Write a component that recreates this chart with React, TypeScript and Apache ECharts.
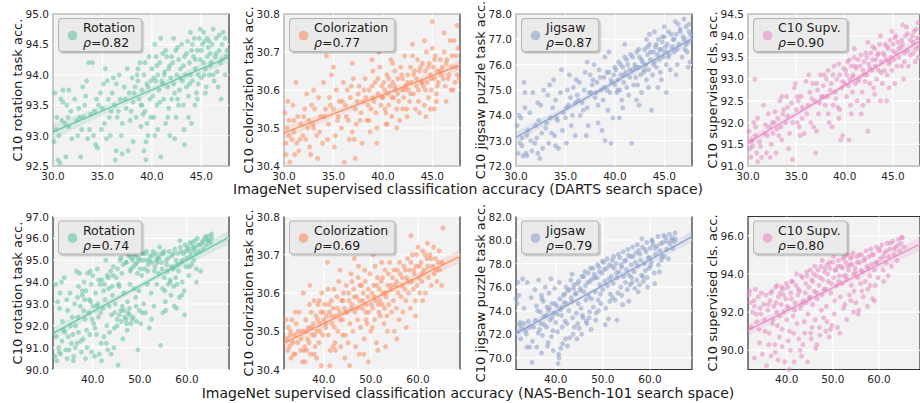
import React, { useEffect, useRef } from 'react';
import * as echarts from 'echarts';

type Pt = [number, number];

// ---------- tick labels ----------
const dartsXTicks = [30, 35, 40, 45];
const nbXTicks = [40, 50, 60];
const rotDartsYTicks = [92.5, 93.0, 93.5, 94.0, 94.5, 95.0];
const colDartsYTicks = [30.4, 30.5, 30.6, 30.7, 30.8];
const jigDartsYTicks = [72, 73, 74, 75, 76, 77, 78];
const supDartsYTicks = [91.0, 91.5, 92.0, 92.5, 93.0, 93.5, 94.0, 94.5];
const rotNbYTicks = [90, 91, 92, 93, 94, 95, 96, 97];
const colNbYTicks = [30.4, 30.5, 30.6, 30.7, 30.8];
const jigNbYTicks = [70, 72, 74, 76, 78, 80, 82];
const supNbYTicks = [90, 92, 94, 96];

// ---------- labels ----------
const taskNames = ['Rotation', 'Colorization', 'Jigsaw', 'C10 Supv.'];
const rhoDarts = ['0.82', '0.77', '0.87', '0.90'];
const rhoNb = ['0.74', '0.69', '0.79', '0.80'];
const yTitles = ['C10 rotation task acc.', 'C10 colorization task acc.', 'C10 jigsaw puzzle task acc.', 'C10 supervised cls. acc.'];
const xTitles = [
  'ImageNet supervised classification accuracy (DARTS search space)',
  'ImageNet supervised classification accuracy (NAS-Bench-101 search space)',
];

// ---------- data (DARTS search space) ----------
const rotationDarts: Pt[] = [
  [30.2,93.7],[30.4,93.3],[30.5,92.6],[30.6,93.0],[30.8,93.6],[31.0,93.75],[31.0,93.55],[31.2,93.2],[31.3,92.65],[31.5,93.3],[31.6,93.15],[31.8,93.4],[31.9,92.95],[30.3,93.1],[30.7,92.55],
  [32.2,93.6],[32.4,93.25],[32.6,93.45],[32.8,92.65],[32.9,93.1],[33.0,93.8],[33.2,93.5],[33.4,93.9],[33.5,92.95],[33.6,94.2],[33.8,93.35],[34.0,94.2],[34.1,93.0],[34.3,92.85],[34.4,93.6],[33.1,93.3],[32.5,93.0],
  [34.6,93.5],[34.8,93.7],[35.0,93.45],[35.2,93.2],[35.3,94.1],[35.5,93.9],[35.6,93.6],[35.8,93.0],[35.9,93.4],[36.0,93.7],[34.5,92.8],[35.1,93.85],[36.3,92.6],
  [36.2,93.5],[36.4,93.85],[36.5,93.3],[36.7,94.0],[36.8,93.6],[37.0,92.7],[37.2,93.8],[37.4,93.45],[37.5,94.1],[37.7,93.7],[37.8,93.25],[38.0,93.95],[38.1,93.55],[36.9,93.0],[37.6,92.75],
  [38.3,93.8],[38.4,93.3],[38.5,94.0],[38.7,93.6],[38.8,94.2],[38.9,93.15],[39.0,93.75],[39.2,94.0],[39.3,93.4],[39.4,92.9],[39.5,93.85],[39.6,93.0],[39.7,94.3],[39.8,93.6],[39.9,93.9],[38.6,93.9],[39.1,93.35],[39.4,92.6],
  [40.0,94.1],[40.1,93.65],[40.2,93.3],[40.3,94.5],[40.4,93.9],[40.5,93.5],[40.6,94.0],[40.7,93.75],[40.8,94.2],[40.9,92.65],[41.0,93.9],[41.1,94.35],[41.2,93.6],[41.3,94.05],[41.4,93.2],[41.5,94.3],[41.6,93.8],[41.7,93.45],[41.8,94.15],[41.9,93.95],[42.0,93.6],[40.45,94.3],[41.25,94.0],
  [42.1,94.2],[42.2,93.85],[42.3,92.95],[42.4,94.4],[42.5,94.0],[42.6,93.6],[42.7,94.25],[42.8,93.75],[42.9,94.1],[43.0,94.5],[43.1,93.9],[43.2,93.5],[43.3,94.3],[43.4,94.0],[43.5,93.8],[43.6,94.55],[43.7,93.65],[43.8,94.2],[43.9,94.0],[44.0,94.4],[42.45,93.3],[43.25,93.1],
  [44.1,93.9],[44.2,94.3],[44.3,94.6],[44.4,94.1],[44.5,93.7],[44.6,94.4],[44.7,94.0],[44.8,94.6],[44.9,94.25],[45.0,93.95],[45.1,94.5],[45.2,94.2],[45.3,94.55],[45.4,94.1],[45.5,93.8],[45.6,94.3],[45.7,94.45],[45.8,94.0],[45.9,94.35],[44.35,93.5],[45.25,94.7],
  [46.0,94.2],[46.1,94.5],[46.3,93.9],[46.4,94.3],[46.5,94.6],[46.6,94.05],[46.8,94.4],[47.0,93.6],[47.1,94.25],[47.2,94.7],[47.4,94.6],[47.5,94.3],[46.2,94.75],
  [38.2,93.7],[38.6,94.1],[39.0,93.5],[39.3,94.2],[39.6,93.8],[39.9,93.3],[40.2,93.95],[40.5,94.15],[40.8,93.55],[41.1,93.85],[41.4,94.4],[41.7,94.1],[42.0,94.3],[42.3,93.7],[42.6,94.45],[42.9,93.95],[43.2,94.15],[43.5,94.35],[43.8,93.85],[44.1,94.5],
  [44.4,94.25],[44.7,93.85],[45.0,94.4],[45.3,94.0],[45.6,94.6],[45.9,94.15],[46.2,94.0],[46.5,94.35],[46.8,94.65],[47.1,94.5],[47.4,94.0],[47.6,94.4],[37.3,93.6],[36.6,93.4],[35.7,93.3],[34.9,93.1],[33.7,93.1],[32.7,93.3],[31.4,93.5],[30.9,93.25],
  [30.1,92.9],[34.2,93.4],[36.1,93.95],[37.0,93.2],[37.9,93.4],[38.9,93.5],[40.6,93.1],[41.6,93.3],[42.7,93.5],[43.7,93.3],[44.6,93.6],[45.4,93.7],[46.7,93.8],[39.5,93.2],[40.9,94.6],[42.2,94.6],[43.9,94.7],[44.9,94.75],[45.8,94.55],[46.9,94.2],
  [31.6,93.75],[33.3,93.65],[35.4,92.95],[36.4,92.75],[38.1,92.9],[39.2,92.75],[41.8,93.0],[43.3,92.85],[40.3,93.0],[44.0,93.2],
];

const colorizationDarts: Pt[] = [
  [30.1,30.54],[30.2,30.46],[30.3,30.50],[30.5,30.52],[30.6,30.41],[30.8,30.47],[30.9,30.56],[31.0,30.49],[31.2,30.62],[31.4,30.53],[31.5,30.44],[31.7,30.51],[31.9,30.48],[30.4,30.57],[31.1,30.43],
  [32.0,30.53],[32.2,30.47],[32.3,30.59],[32.5,30.52],[32.7,30.43],[32.8,30.56],[33.0,30.50],[33.1,30.55],[33.3,30.48],[33.5,30.58],[33.7,30.53],[33.9,30.46],[32.4,30.50],[33.4,30.42],
  [34.0,30.62],[34.2,30.55],[34.3,30.69],[34.5,30.51],[34.6,30.58],[34.8,30.64],[35.0,30.55],[35.2,30.48],[35.3,30.60],[35.5,30.53],[35.6,30.57],[35.8,30.50],[36.0,30.62],[35.1,30.45],[36.1,30.41],
  [36.2,30.56],[36.4,30.60],[36.5,30.52],[36.7,30.58],[36.9,30.49],[37.0,30.63],[37.2,30.55],[37.3,30.51],[37.5,30.59],[37.6,30.61],[37.8,30.54],[38.0,30.57],[37.1,30.47],[37.9,30.46],
  [38.2,30.63],[38.3,30.58],[38.4,30.52],[38.6,30.60],[38.8,30.55],[38.9,30.68],[39.0,30.58],[39.2,30.62],[39.3,30.54],[39.4,30.50],[39.5,30.59],[39.7,30.66],[39.8,30.56],[39.9,30.61],[38.7,30.49],[39.6,30.70],
  [40.0,30.58],[40.1,30.62],[40.2,30.55],[40.3,30.51],[40.4,30.64],[40.5,30.59],[40.6,30.56],[40.7,30.61],[40.8,30.68],[40.9,30.53],[41.0,30.62],[41.1,30.58],[41.2,30.65],[41.3,30.60],[41.4,30.55],[41.5,30.63],[41.6,30.57],[41.8,30.66],[41.9,30.60],[40.45,30.51],[41.7,30.52],
  [42.0,30.63],[42.1,30.58],[42.2,30.69],[42.3,30.61],[42.4,30.55],[42.5,30.64],[42.6,30.60],[42.7,30.57],[42.8,30.66],[42.9,30.62],[43.0,30.72],[43.1,30.59],[43.2,30.65],[43.3,30.55],[43.4,30.63],[43.5,30.68],[43.6,30.60],[43.8,30.66],[43.9,30.62],[42.45,30.53],[43.7,30.54],
  [44.0,30.67],[44.1,30.61],[44.2,30.56],[44.3,30.65],[44.4,30.70],[44.5,30.62],[44.6,30.58],[44.7,30.67],[44.8,30.64],[44.9,30.60],[45.0,30.71],[45.1,30.66],[45.2,30.63],[45.3,30.69],[45.4,30.59],[45.5,30.65],[45.6,30.62],[45.8,30.68],[45.9,30.64],[44.35,30.53],[45.2,30.55],[45.0,30.78],
  [46.0,30.66],[46.2,30.70],[46.3,30.61],[46.5,30.68],[46.6,30.63],[46.8,30.73],[47.0,30.66],[47.1,30.60],[47.2,30.73],[47.4,30.69],[47.5,30.64],[47.6,30.71],[46.4,30.57],[47.3,30.62],
  [38.1,30.60],[38.5,30.56],[38.9,30.61],[39.1,30.57],[39.5,30.63],[39.9,30.58],[40.2,30.60],[40.6,30.63],[40.9,30.58],[41.2,30.61],[41.5,30.59],[41.9,30.64],[42.2,30.60],[42.5,30.62],[42.8,30.59],[43.1,30.64],[43.4,30.61],[43.7,30.65],[44.0,30.62],[44.3,30.60],
  [44.6,30.66],[44.9,30.63],[45.2,30.68],[45.5,30.61],[45.8,30.65],[46.1,30.63],[46.4,30.67],[46.7,30.64],[47.0,30.69],[47.4,30.66],[47.7,30.63],[30.5,30.48],[31.0,30.52],[31.6,30.47],[32.1,30.55],[32.9,30.51],[33.6,30.49],[34.1,30.53],[34.7,30.56],[35.4,30.52],
  [35.9,30.57],[36.3,30.53],[36.8,30.61],[37.4,30.57],[37.7,30.52],[30.2,30.43],[31.3,30.46],[32.6,30.45],[34.4,30.47],[36.6,30.47],[38.6,30.52],[40.3,30.54],[42.0,30.55],[43.6,30.57],[45.4,30.57],[46.9,30.60],[39.0,30.65],[41.0,30.67],[43.0,30.69],[44.2,30.73],
  [46.2,30.75],[47.5,30.77],[33.0,30.60],[35.0,30.66],[36.9,30.67],[37.2,30.42],[39.4,30.46],[41.4,30.50],[44.8,30.55],
];

const jigsawDarts: Pt[] = [
  [30.1,73.6],[30.3,74.0],[30.4,72.9],[30.6,73.1],[30.7,72.4],[30.8,75.3],[30.9,74.9],[31.0,72.5],[31.2,73.4],[31.4,74.1],[31.5,73.0],[31.7,74.9],[31.9,72.9],[30.5,73.9],[31.1,72.4],
  [32.0,73.6],[32.2,72.5],[32.3,73.8],[32.5,74.4],[32.6,73.3],[32.8,75.0],[33.0,73.5],[33.2,74.8],[33.3,72.9],[33.5,73.9],[33.7,74.3],[33.9,73.2],[32.4,72.3],[33.4,75.2],
  [34.0,74.6],[34.2,73.8],[34.3,72.7],[34.5,74.9],[34.6,75.8],[34.8,74.1],[35.0,73.9],[35.2,75.0],[35.3,74.4],[35.5,74.7],[35.6,73.6],[35.8,75.1],[36.0,74.5],[35.1,72.9],[36.1,75.4],
  [36.2,74.8],[36.4,75.3],[36.5,74.0],[36.7,74.5],[36.9,75.0],[37.0,75.7],[37.2,74.3],[37.3,73.6],[37.5,75.6],[37.6,74.9],[37.8,75.4],[38.0,74.7],[37.1,73.2],[37.9,76.0],
  [38.2,75.3],[38.3,74.4],[38.4,75.8],[38.6,75.0],[38.8,74.6],[38.9,75.5],[39.0,76.3],[39.2,75.0],[39.3,74.2],[39.4,75.7],[39.5,74.9],[39.7,75.3],[39.8,73.9],[39.9,75.6],[38.7,73.4],[39.6,72.9],
  [40.0,75.2],[40.1,75.8],[40.2,74.9],[40.3,75.4],[40.4,76.1],[40.5,75.0],[40.6,75.6],[40.7,74.6],[40.8,75.9],[40.9,75.3],[41.0,76.3],[41.1,75.7],[41.2,75.1],[41.3,76.0],[41.4,74.8],[41.5,75.5],[41.6,76.4],[41.8,75.8],[41.9,75.2],[40.45,73.9],[41.7,72.9],
  [42.0,76.0],[42.1,75.5],[42.2,76.5],[42.3,75.2],[42.4,75.9],[42.5,76.3],[42.6,75.6],[42.7,74.9],[42.8,76.1],[42.9,75.7],[43.0,76.6],[43.1,76.0],[43.2,75.4],[43.3,76.4],[43.4,75.8],[43.5,76.8],[43.6,76.2],[43.8,75.6],[43.9,76.5],[42.45,74.4],[43.7,74.2],[43.2,77.0],
  [44.0,76.1],[44.1,76.7],[44.2,75.9],[44.3,76.4],[44.4,77.0],[44.5,76.2],[44.6,75.7],[44.7,76.6],[44.8,76.9],[44.9,76.3],[45.0,77.1],[45.1,76.5],[45.2,76.0],[45.3,76.8],[45.4,77.3],[45.5,76.4],[45.6,75.8],[45.8,76.7],[45.9,77.0],[44.35,75.1],[45.2,74.9],
  [46.0,76.5],[46.2,77.2],[46.3,76.0],[46.5,76.8],[46.6,77.4],[46.8,76.3],[47.0,77.0],[47.1,76.6],[47.2,77.5],[47.4,76.9],[47.5,77.3],[47.6,76.1],[46.4,77.6],[47.3,76.5],
  [30.2,72.5],[30.6,72.8],[31.1,73.2],[31.6,72.6],[32.1,73.1],[32.7,72.7],[33.1,73.7],[33.6,73.3],[34.1,73.9],[34.7,73.4],[35.1,74.3],[35.7,74.0],[36.3,74.6],[36.8,74.2],[37.4,74.9],[37.7,75.2],[38.1,74.9],[38.5,75.5],[38.9,75.1],[39.2,75.7],
  [39.6,75.4],[40.0,75.9],[40.3,75.0],[40.6,76.0],[40.9,75.6],[41.2,76.2],[41.5,75.8],[41.8,76.3],[42.1,75.9],[42.4,76.6],[42.7,76.2],[43.0,75.8],[43.3,76.7],[43.6,76.5],[43.9,76.0],[44.2,76.8],[44.5,76.6],[44.8,77.1],[45.1,76.7],[45.4,76.3],
  [45.7,77.2],[46.0,77.0],[46.3,76.6],[46.6,77.3],[46.9,77.1],[47.2,76.8],[47.5,77.6],[47.7,77.2],[44.0,77.3],[45.0,77.5],[46.1,77.7],[47.0,77.8],[43.5,77.2],[41.0,76.8],[39.4,76.5],[37.2,76.1],[35.4,75.6],[33.8,75.4],[32.2,74.5],[30.9,74.3],
  [40.8,74.3],[42.2,74.6],[43.4,75.1],[44.7,75.4],[46.2,75.6],[47.4,75.9],[38.3,73.7],[36.0,73.2],[34.0,72.8],[39.0,73.0],
];

const supervisedDarts: Pt[] = [
  [30.1,91.8],[30.3,91.2],[30.4,91.6],[30.5,91.45],[30.6,92.0],[30.7,93.0],[30.8,91.7],[30.9,91.3],[31.0,92.1],[31.2,91.55],[31.4,91.2],[31.6,92.4],[31.8,91.95],[31.9,91.3],[30.2,91.4],
  [32.0,91.7],[32.1,92.2],[32.3,91.2],[32.5,92.0],[32.6,91.75],[32.8,92.25],[33.0,91.85],[33.1,92.1],[33.3,92.5],[33.5,91.6],[33.7,92.3],[33.9,92.0],[32.4,91.5],[33.4,91.9],
  [34.0,92.6],[34.1,92.15],[34.3,91.75],[34.5,92.45],[34.6,91.15],[34.8,92.8],[35.0,92.3],[35.2,92.5],[35.3,91.9],[35.5,92.6],[35.6,92.1],[35.8,91.75],[36.0,92.95],[35.1,92.0],[34.2,91.4],
  [36.2,92.4],[36.4,92.7],[36.5,92.0],[36.7,92.9],[36.9,92.5],[37.0,91.3],[37.2,92.75],[37.3,92.2],[37.5,93.1],[37.6,92.6],[37.8,92.85],[38.0,92.4],[37.1,91.8],[37.9,93.1],
  [38.2,92.6],[38.3,93.2],[38.4,92.0],[38.6,92.9],[38.8,92.4],[38.9,93.3],[39.0,92.7],[39.2,93.0],[39.3,92.35],[39.4,92.1],[39.5,93.1],[39.7,92.8],[39.8,91.7],[39.9,93.25],[38.7,91.9],[39.6,91.6],
  [40.0,92.9],[40.1,93.2],[40.2,92.6],[40.3,93.4],[40.4,92.85],[40.5,93.0],[40.6,92.4],[40.7,93.3],[40.8,92.7],[40.9,93.1],[41.0,93.5],[41.1,92.9],[41.2,93.25],[41.3,92.5],[41.4,93.45],[41.5,93.0],[41.6,93.3],[41.8,92.7],[41.9,93.2],[40.45,91.6],[41.7,92.2],
  [42.0,93.4],[42.1,92.95],[42.2,93.6],[42.3,93.1],[42.4,91.8],[42.5,93.35],[42.6,92.9],[42.7,93.6],[42.8,93.2],[42.9,93.45],[43.0,92.8],[43.1,93.7],[43.2,93.3],[43.3,93.0],[43.4,93.55],[43.5,93.2],[43.6,93.8],[43.8,93.4],[43.9,92.9],[42.45,92.5],[43.7,92.5],
  [44.0,93.6],[44.1,93.2],[44.2,93.8],[44.3,93.45],[44.4,93.1],[44.5,93.7],[44.6,93.35],[44.7,93.9],[44.8,93.5],[44.9,93.2],[45.0,93.8],[45.1,93.45],[45.2,93.95],[45.3,93.6],[45.4,93.3],[45.5,93.85],[45.6,93.5],[45.8,93.75],[45.9,93.3],[44.35,92.5],[45.2,92.9],
  [46.0,93.8],[46.2,93.4],[46.3,94.0],[46.5,93.65],[46.6,93.3],[46.8,93.9],[47.0,94.0],[47.1,93.6],[47.2,94.1],[47.4,93.7],[47.5,93.95],[47.6,93.5],[46.4,94.2],[47.3,93.4],
  [30.3,91.55],[30.8,91.9],[31.3,91.45],[31.7,91.75],[32.2,91.9],[32.7,92.0],[33.2,91.7],[33.6,92.2],[34.1,92.35],[34.6,92.0],[35.1,92.6],[35.6,92.35],[36.1,92.2],[36.6,92.55],[37.1,92.9],[37.4,92.45],[37.8,92.6],[38.1,93.0],[38.5,92.75],[38.8,93.1],
  [39.1,92.55],[39.4,93.35],[39.8,92.95],[40.2,93.1],[40.5,93.45],[40.8,93.05],[41.1,93.3],[41.4,92.95],[41.7,93.55],[42.0,93.1],[42.3,93.5],[42.6,93.25],[42.9,93.75],[43.2,93.45],[43.5,93.6],[43.8,93.15],[44.1,93.55],[44.4,93.75],[44.7,93.4],[45.0,93.65],
  [45.3,94.0],[45.6,93.7],[45.9,93.9],[46.2,93.6],[46.5,94.05],[46.8,93.55],[47.1,93.85],[47.4,94.15],[47.7,93.75],[41.0,93.7],[42.4,93.85],[43.7,94.0],[44.9,94.1],[46.0,94.25],[47.6,94.3],[38.3,92.2],[39.5,92.3],[40.7,92.2],[41.9,92.4],[43.1,92.65],
  [44.6,92.8],[46.1,93.0],[35.4,91.7],[36.8,91.9],[33.5,92.6],[34.9,92.9],[36.3,93.1],[31.0,91.1],[32.9,91.3],
];

// ---------- data (NAS-Bench-101 search space) ----------
const rotationNb: Pt[] = [
  [32.0,90.6],[32.2,93.9],[32.4,90.4],[32.6,93.1],[32.8,91.0],[33.0,92.8],[33.2,90.7],[33.4,94.0],[33.6,92.2],[33.8,91.8],[34.0,94.2],[34.3,90.9],[34.5,93.2],[34.7,92.7],[35.0,90.9],[35.2,93.5],[35.5,91.2],[35.7,92.4],[36.0,90.6],[36.2,93.0],[33.1,93.5],[34.8,91.5],[35.9,90.4],
  [36.4,92.0],[36.6,94.5],[36.8,93.3],[37.0,91.7],[37.2,94.4],[37.4,92.9],[37.6,90.8],[37.8,93.4],[38.0,91.4],[38.2,94.0],[38.4,92.3],[38.6,93.6],[38.8,91.0],[39.0,94.4],[39.2,92.6],[39.4,91.6],[39.6,93.1],[39.8,90.8],[40.0,94.3],[37.0,93.8],[38.5,90.5],[39.5,94.5],[36.7,91.2],
  [40.2,92.1],[40.4,90.6],[40.6,93.5],[40.8,91.6],[41.0,94.6],[41.2,92.4],[41.4,90.7],[41.6,93.9],[41.8,91.2],[42.0,94.1],[42.2,92.8],[42.4,91.5],[42.6,93.2],[42.8,95.0],[43.0,92.0],[43.2,90.9],[43.4,93.7],[43.6,91.7],[43.8,94.5],[44.0,92.5],[40.9,92.9],[41.9,90.4],[43.1,94.3],[43.9,90.7],
  [44.2,93.4],[44.4,94.7],[44.6,91.9],[44.8,93.0],[45.0,94.2],[45.2,92.3],[45.4,90.2],[45.6,93.8],[45.8,95.0],[46.0,92.7],[46.2,94.4],[46.4,91.4],[46.6,93.5],[46.8,92.4],[47.0,94.9],[47.2,92.1],[47.4,93.1],[47.6,95.3],[47.8,92.5],[48.0,94.5],[44.5,91.0],[45.5,93.9],[46.5,94.8],[47.3,91.8],[47.9,93.9],
  [48.2,95.1],[48.4,92.3],[48.6,94.7],[48.8,93.7],[49.0,95.2],[49.2,92.9],[49.4,94.9],[49.6,90.9],[49.8,93.6],[50.0,95.0],[50.2,92.1],[50.4,94.3],[50.6,95.3],[50.8,93.0],[51.0,94.6],[51.2,92.6],[51.4,95.4],[51.6,93.9],[51.8,94.8],[52.0,91.9],[48.5,95.0],[49.5,94.4],[50.5,92.6],[51.5,95.0],[49.1,93.3],
  [52.2,95.2],[52.4,93.5],[52.6,94.9],[52.8,95.4],[53.0,92.9],[53.2,94.7],[53.4,95.3],[53.6,93.9],[53.8,95.1],[54.0,94.4],[54.2,95.6],[54.4,91.1],[54.6,94.9],[54.8,93.7],[55.0,95.3],[55.2,94.2],[55.4,93.1],[55.6,95.0],[55.8,94.5],[56.0,93.9],[52.5,92.3],[53.5,95.0],[54.5,95.3],[55.5,92.7],
  [56.2,95.4],[56.4,94.1],[56.6,93.4],[56.8,95.2],[57.0,94.6],[57.2,93.8],[57.4,95.5],[57.6,94.2],[57.8,92.8],[58.0,95.3],[58.2,94.5],[58.4,93.3],[58.6,95.6],[58.8,94.9],[59.0,94.0],[59.2,95.3],[59.4,93.6],[59.6,95.7],[59.8,94.7],[60.0,95.1],[57.5,94.7],[58.5,95.9],[59.5,92.5],
  [60.2,95.5],[60.4,94.3],[60.6,95.8],[60.8,95.2],[61.0,94.8],[61.2,95.6],[61.4,95.0],[61.6,95.9],[61.8,95.3],[62.0,94.6],[62.3,95.7],[62.6,95.4],[62.9,94.5],[63.2,95.8],[63.5,95.5],[63.8,96.0],[64.1,95.7],[64.4,95.9],[64.7,96.1],[65.0,95.8],[65.3,96.0],[61.5,95.5],[62.0,94.0],
  [47.2,94.9],[47.7,95.2],[48.1,94.6],[48.7,95.3],[49.1,94.8],[49.7,95.1],[50.1,94.6],[50.7,95.0],[51.1,95.3],[51.7,94.5],[52.1,95.0],[52.7,95.2],[53.1,94.5],[53.7,94.9],[54.1,95.1],[54.7,94.6],[55.1,95.4],[55.7,94.8],[56.1,95.1],[56.7,94.7],
  [57.1,95.3],[57.7,95.0],[58.1,94.8],[58.7,95.4],[59.1,95.0],[59.7,95.4],[60.1,95.6],[60.7,95.4],[61.1,95.8],[61.7,95.6],[62.2,96.0],[62.8,95.7],[63.4,95.9],[64.0,96.1],[64.6,95.9],[65.2,96.2],[45.2,92.0],[45.7,92.5],[46.1,92.2],[46.6,92.7],
  [47.1,92.3],[47.5,92.6],[48.1,92.1],[48.6,92.4],[49.3,92.2],[49.9,92.7],[46.3,92.9],[47.8,92.8],[32.3,91.5],[32.9,90.8],[33.5,91.3],[34.1,91.7],[34.6,90.5],[35.3,92.0],[35.8,91.6],[36.3,91.0],[36.9,92.4],[37.5,91.3],[38.1,92.7],[38.7,91.8],
  [39.3,93.2],[39.9,92.3],[40.5,91.9],[41.1,93.0],[41.7,92.6],[42.3,93.6],[42.9,91.2],[43.5,92.9],[44.1,93.8],[44.7,92.6],[37.8,93.6],[38.3,93.2],[39.7,93.9],[40.1,92.9],[41.3,94.1],[42.5,93.9],[43.3,94.2],[44.3,94.3],[45.3,94.6],[46.0,95.1],
  [55.3,93.6],[56.5,94.0],[57.9,93.9],[58.9,93.4],[60.5,94.7],[54.9,92.6],[57.3,92.9],
];

const colorizationNb: Pt[] = [
  [32.0,30.53],[32.2,30.48],[32.5,30.51],[32.8,30.46],[33.0,30.50],[33.3,30.53],[33.6,30.44],[33.9,30.49],[34.2,30.52],[34.5,30.47],[34.8,30.55],[35.1,30.45],[35.4,30.50],[35.7,30.60],[36.0,30.46],[33.1,30.43],[34.0,30.55],[35.5,30.42],
  [36.2,30.53],[36.4,30.45],[36.6,30.48],[36.8,30.51],[37.0,30.57],[37.2,30.44],[37.4,30.55],[37.6,30.49],[37.8,30.52],[38.0,30.58],[38.2,30.46],[38.4,30.54],[38.6,30.50],[38.8,30.57],[39.0,30.47],[39.2,30.52],[39.4,30.55],[39.6,30.60],[39.8,30.49],[40.0,30.53],[37.1,30.62],[38.5,30.43],[39.5,30.41],
  [40.2,30.57],[40.4,30.51],[40.6,30.54],[40.8,30.68],[41.0,30.49],[41.2,30.55],[41.4,30.45],[41.6,30.58],[41.8,30.52],[42.0,30.56],[42.2,30.61],[42.4,30.47],[42.6,30.54],[42.8,30.59],[43.0,30.50],[43.2,30.63],[43.4,30.55],[43.6,30.46],[43.8,30.58],[44.0,30.53],[41.3,30.41],[42.5,30.45],[43.5,30.66],
  [44.2,30.60],[44.4,30.56],[44.6,30.49],[44.8,30.62],[45.0,30.55],[45.2,30.47],[45.4,30.58],[45.6,30.52],[45.8,30.65],[46.0,30.57],[46.2,30.50],[46.4,30.61],[46.6,30.55],[46.8,30.46],[47.0,30.59],[47.2,30.53],[47.4,30.67],[47.6,30.58],[47.8,30.51],[48.0,30.62],[44.5,30.43],[45.5,30.41],[46.5,30.69],[47.5,30.44],
  [48.2,30.56],[48.4,30.60],[48.6,30.48],[48.8,30.63],[49.0,30.57],[49.2,30.52],[49.4,30.59],[49.6,30.55],[49.8,30.65],[50.0,30.50],[50.2,30.60],[50.4,30.56],[50.6,30.62],[50.8,30.53],[51.0,30.58],[51.2,30.47],[51.4,30.64],[51.6,30.57],[51.8,30.61],[52.0,30.54],[48.5,30.44],[49.5,30.42],[50.5,30.70],[51.5,30.45],
  [52.2,30.63],[52.4,30.57],[52.6,30.60],[52.8,30.52],[53.0,30.66],[53.2,30.59],[53.4,30.54],[53.6,30.62],[53.8,30.57],[54.0,30.68],[54.2,30.61],[54.4,30.55],[54.6,30.64],[54.8,30.58],[55.0,30.50],[55.2,30.62],[55.4,30.56],[55.6,30.66],[55.8,30.60],[56.0,30.53],[53.1,30.46],[54.5,30.77],[55.5,30.48],
  [56.2,30.65],[56.4,30.59],[56.6,30.62],[56.8,30.55],[57.0,30.67],[57.2,30.61],[57.4,30.58],[57.6,30.64],[57.8,30.69],[58.0,30.60],[58.2,30.66],[58.4,30.56],[58.6,30.63],[58.8,30.70],[59.0,30.61],[59.2,30.65],[59.4,30.58],[59.6,30.67],[59.8,30.62],[60.0,30.72],[57.5,30.51],[58.5,30.75],[59.5,30.54],
  [60.2,30.64],[60.4,30.60],[60.6,30.68],[60.8,30.63],[61.0,30.71],[61.3,30.66],[61.6,30.60],[61.9,30.69],[62.2,30.64],[62.5,30.70],[62.8,30.62],[63.1,30.67],[63.4,30.65],[63.7,30.69],[64.0,30.63],[64.3,30.68],[64.6,30.66],[65.0,30.62],[65.3,30.77],[61.0,30.58],[62.0,30.73],
  [32.4,30.45],[32.9,30.49],[33.4,30.47],[34.0,30.44],[34.6,30.50],[35.2,30.48],[35.8,30.45],[36.3,30.50],[36.9,30.47],[37.5,30.51],[38.1,30.49],[38.7,30.53],[39.3,30.50],[39.9,30.55],[40.5,30.52],[41.1,30.57],[41.7,30.54],[42.3,30.51],[42.9,30.56],[43.5,30.53],
  [44.1,30.58],[44.7,30.55],[45.3,30.60],[45.9,30.56],[46.5,30.59],[47.1,30.56],[47.7,30.62],[48.3,30.58],[48.9,30.55],[49.5,30.61],[50.1,30.57],[50.7,30.59],[51.3,30.62],[51.9,30.58],[52.5,30.64],[53.1,30.60],[53.7,30.65],[54.3,30.62],[54.9,30.66],[55.5,30.63],
  [56.1,30.68],[56.7,30.64],[57.3,30.66],[57.9,30.63],[58.5,30.68],[59.1,30.66],[59.7,30.70],[60.3,30.67],[60.9,30.65],[61.5,30.70],[62.1,30.67],[62.7,30.69],[63.3,30.72],[63.9,30.66],[64.5,30.71],[65.1,30.68],[49.0,30.53],[50.3,30.51],[51.7,30.55],[52.9,30.56],
  [53.5,30.50],[46.0,30.63],[47.3,30.64],[48.7,30.66],[50.9,30.67],[52.3,30.68],[44.0,30.49],[42.0,30.46],[38.0,30.44],[36.1,30.42],[40.9,30.61],[39.1,30.58],
];

const jigsawNb: Pt[] = [
  [31.6,75.0],[31.8,74.6],[32.0,76.4],[32.3,72.8],[32.5,73.0],[32.8,72.5],[33.0,76.7],[33.3,74.2],[33.6,72.3],[33.9,70.9],[34.2,73.1],[34.5,70.9],[34.8,75.1],[35.0,69.6],[35.3,72.6],[35.6,75.8],[35.9,74.4],[34.0,76.4],[32.2,75.3],
  [36.2,74.0],[36.4,76.6],[36.6,72.4],[36.8,73.9],[37.0,75.3],[37.2,71.9],[37.4,74.8],[37.6,72.8],[37.8,76.0],[38.0,73.6],[38.2,74.3],[38.4,71.3],[38.6,75.5],[38.8,73.2],[39.0,76.7],[39.2,74.6],[39.4,72.3],[39.6,73.8],[39.8,75.9],[40.0,73.0],[37.1,75.0],[38.5,74.0],[39.5,70.6],
  [40.2,74.4],[40.4,72.2],[40.6,70.3],[40.8,76.4],[41.0,74.1],[41.2,73.6],[41.4,72.6],[41.6,75.3],[41.8,74.7],[42.0,73.1],[42.2,76.0],[42.4,72.9],[42.6,75.7],[42.8,74.0],[43.0,71.7],[43.2,76.6],[43.4,74.8],[43.6,73.4],[43.8,75.9],[44.0,72.6],[40.5,69.5],[40.7,70.0],[41.5,71.2],[42.5,71.0],[43.5,77.1],
  [44.2,75.4],[44.4,73.8],[44.6,76.3],[44.8,74.6],[45.0,72.5],[45.2,75.9],[45.4,74.2],[45.6,76.9],[45.8,73.4],[46.0,75.6],[46.2,77.3],[46.4,74.9],[46.6,72.9],[46.8,76.4],[47.0,75.2],[47.2,73.9],[47.4,77.6],[47.6,75.0],[47.8,76.7],[48.0,74.3],[44.5,71.6],[45.5,72.0],[46.5,73.1],[47.5,72.4],
  [48.2,77.1],[48.4,75.6],[48.6,73.8],[48.8,76.8],[49.0,74.9],[49.2,77.7],[49.4,76.2],[49.6,74.6],[49.8,77.2],[50.0,75.8],[50.2,78.1],[50.4,76.5],[50.6,74.2],[50.8,77.6],[51.0,76.1],[51.2,73.3],[51.4,77.9],[51.6,75.4],[51.8,76.9],[52.0,78.3],[48.5,73.2],[49.5,75.4],[50.5,72.8],[51.5,74.8],
  [52.2,76.3],[52.4,77.6],[52.6,74.9],[52.8,78.0],[53.0,76.8],[53.2,75.5],[53.4,77.3],[53.6,78.5],[53.8,76.0],[54.0,77.7],[54.2,74.5],[54.4,76.9],[54.6,78.2],[54.8,76.4],[55.0,77.5],[55.2,75.8],[55.4,78.7],[55.6,77.0],[55.8,76.2],[56.0,77.9],[53.0,73.2],[54.0,75.3],[55.5,74.8],
  [56.2,76.4],[56.4,78.6],[56.6,77.3],[56.8,75.9],[57.0,78.9],[57.2,76.6],[57.4,77.8],[57.6,79.1],[57.8,76.2],[58.0,78.3],[58.2,77.0],[58.4,79.4],[58.6,76.5],[58.8,78.0],[59.0,77.4],[59.2,79.0],[59.4,76.8],[59.6,78.5],[59.8,77.6],[60.0,79.3],[57.5,75.6],[58.5,76.9],[59.5,76.0],
  [60.3,78.1],[60.6,79.6],[60.9,77.2],[61.2,78.8],[61.5,79.5],[61.8,77.9],[62.1,79.1],[62.4,78.3],[62.7,79.8],[63.0,78.6],[63.3,80.2],[63.6,79.2],[63.9,78.4],[64.2,79.7],[64.5,80.0],[64.8,79.3],[65.1,79.9],[65.4,80.1],[61.0,76.3],[62.0,77.3],[60.4,80.0],
  [32.0,72.2],[32.6,71.6],[33.2,72.9],[33.8,72.0],[34.4,72.6],[35.1,71.4],[35.7,73.2],[36.3,72.1],[36.9,72.9],[37.5,73.5],[38.1,72.6],[38.7,74.2],[39.3,73.4],[39.9,74.6],[40.3,73.7],[40.9,75.0],[41.3,74.3],[41.9,75.4],[42.3,74.6],[42.9,75.8],
  [43.3,75.1],[43.9,76.2],[44.3,75.5],[44.9,76.5],[45.3,75.7],[45.9,76.9],[46.3,76.1],[46.9,77.2],[47.3,76.5],[47.9,77.6],[48.3,76.8],[48.9,77.9],[49.3,77.3],[49.9,78.2],[50.3,77.5],[50.9,78.4],[51.3,76.7],[51.9,77.8],[52.3,78.6],[52.9,77.2],
  [53.3,78.8],[53.9,77.9],[54.3,79.0],[54.9,78.3],[55.3,79.2],[55.9,78.6],[56.3,79.4],[56.9,78.1],[57.3,79.6],[57.9,78.8],[58.3,80.1],[58.9,79.2],[59.3,79.8],[59.9,78.5],[60.5,79.9],[61.1,79.3],[61.7,80.3],[62.3,79.7],[62.9,80.4],[63.5,79.9],
  [64.1,80.5],[64.7,80.2],[65.3,80.6],[36.0,70.9],[37.0,70.4],[38.3,71.0],[39.1,71.8],[41.1,70.8],[42.1,71.6],[43.7,72.0],[44.7,72.9],[45.7,73.6],[47.1,73.4],[49.1,74.0],[52.1,75.1],[56.1,76.8],[60.1,77.8],[62.5,78.6],
];

const supervisedNb: Pt[] = [
  [31.8,92.9],[32.0,93.1],[32.3,91.2],[32.6,92.0],[32.9,92.6],[33.2,93.2],[33.5,91.5],[33.8,92.8],[34.1,90.4],[34.4,91.9],[34.7,89.8],[35.0,92.4],[35.3,91.0],[35.6,89.2],[35.9,92.1],[33.0,89.6],[34.0,91.1],
  [36.2,90.9],[36.4,92.6],[36.6,89.7],[36.8,93.1],[37.0,91.6],[37.2,92.3],[37.4,90.3],[37.6,93.3],[37.8,92.0],[38.0,91.3],[38.2,92.8],[38.4,90.7],[38.6,93.0],[38.8,92.4],[39.0,91.1],[39.2,93.2],[39.4,92.0],[39.6,89.4],[39.8,92.7],[40.0,91.6],[37.5,89.9],[39.0,90.2],
  [40.2,93.3],[40.4,92.2],[40.6,91.0],[40.8,90.0],[41.0,92.7],[41.2,93.6],[41.4,91.8],[41.6,89.4],[41.8,92.5],[42.0,93.4],[42.2,91.4],[42.4,92.9],[42.6,90.6],[42.8,93.1],[43.0,92.2],[43.2,89.7],[43.4,93.8],[43.6,92.6],[43.8,91.5],[44.0,93.0],[40.5,89.0],[41.5,90.9],[43.5,90.3],
  [44.2,92.5],[44.4,93.9],[44.6,91.9],[44.8,93.3],[45.0,92.8],[45.2,90.9],[45.4,93.7],[45.6,92.4],[45.8,94.0],[46.0,93.1],[46.2,91.6],[46.4,93.9],[46.6,92.7],[46.8,94.2],[47.0,93.4],[47.2,90.8],[47.4,94.4],[47.6,92.9],[47.8,93.7],[48.0,91.7],[44.5,89.4],[45.5,91.2],[46.5,90.3],[47.5,92.1],
  [48.2,94.1],[48.4,93.2],[48.6,92.3],[48.8,94.5],[49.0,93.6],[49.2,90.7],[49.4,94.3],[49.6,93.0],[49.8,91.3],[50.0,94.6],[50.2,93.8],[50.4,92.6],[50.6,94.2],[50.8,93.4],[51.0,91.2],[51.2,94.7],[51.4,93.9],[51.6,92.8],[51.8,94.4],[52.0,93.5],[48.5,91.0],[49.5,91.1],[51.5,90.9],
  [52.2,94.8],[52.4,93.9],[52.6,92.4],[52.8,94.6],[53.0,93.7],[53.2,95.0],[53.4,94.2],[53.6,92.9],[53.8,94.8],[54.0,93.4],[54.2,94.5],[54.4,95.1],[54.6,93.1],[54.8,94.3],[55.0,92.5],[55.2,94.9],[55.4,93.8],[55.6,92.1],[55.8,94.6],[56.0,93.5],[53.0,91.6],[54.5,92.0],[55.5,91.9],
  [56.2,95.0],[56.4,94.1],[56.6,92.8],[56.8,94.7],[57.0,93.6],[57.2,95.2],[57.4,94.4],[57.6,93.2],[57.8,94.9],[58.0,93.9],[58.2,95.3],[58.4,94.5],[58.6,92.7],[58.8,95.0],[59.0,94.2],[59.2,93.4],[59.4,95.4],[59.6,94.6],[59.8,93.8],[60.0,95.2],[57.5,92.3],[59.0,92.6],
  [60.3,94.8],[60.6,95.5],[60.9,94.2],[61.2,95.1],[61.5,94.6],[61.8,95.6],[62.1,94.9],[62.4,95.3],[62.7,94.4],[63.0,95.7],[63.3,95.0],[63.6,95.4],[63.9,94.7],[64.2,95.8],[64.5,95.2],[64.8,95.6],[65.1,95.9],[65.4,95.4],[61.0,93.6],[62.0,93.9],
  [33.4,91.9],[34.2,92.2],[35.2,91.6],[36.0,92.4],[36.9,91.4],[37.7,92.5],[38.5,91.8],[39.3,92.9],[40.1,92.3],[40.9,93.0],[41.7,92.1],[42.5,93.2],[43.3,92.4],[44.1,93.5],[44.9,92.7],[45.7,93.6],[46.5,93.0],[47.3,93.8],[48.1,93.2],[48.9,94.0],
  [49.7,93.5],[50.5,94.2],[51.3,93.6],[52.1,94.3],[52.9,93.9],[53.7,94.5],[54.5,94.0],[55.3,94.6],[56.1,94.2],[56.9,94.8],[57.7,94.3],[58.5,95.0],[59.3,94.6],[60.1,95.3],[60.9,94.9],[61.7,95.2],[62.5,95.6],[63.3,95.3],[64.1,95.5],[64.9,95.9],
  [52.5,94.9],[53.3,94.4],[54.1,94.9],[54.9,94.1],[55.7,95.0],[50.1,94.9],[51.1,94.4],[49.3,94.6],[48.3,94.3],[47.7,94.7],[46.1,94.4],[45.1,94.2],[44.3,94.1],[43.1,93.9],[42.1,94.0],[41.1,93.6],[39.9,93.5],[38.9,93.3],[37.9,93.4],[36.5,93.0],
  [35.5,92.9],[34.5,93.0],[33.0,92.3],[32.1,92.5],[47.1,91.2],[48.7,91.5],[50.3,91.9],[52.3,92.2],[53.9,92.6],[56.3,93.1],[58.1,93.4],[46.3,90.1],[45.3,90.6],[43.9,90.9],[42.9,90.0],[40.3,90.5],[38.1,89.5],[36.1,90.3],
];

// ---------- styling / layout ----------
const COLORS = ['#66c2a5', '#fc8d62', '#8da0cb', '#e78ac3'];
const FONT = 'DejaVu Sans';
const COL_LEFT = [53, 284, 516, 748];
const ROW_TOP = [14, 216.5];
const PLOT_W = 176;
const PLOT_H = [152, 153];

interface Panel {
  data: Pt[];
  xMin: number; xMax: number; xTicks: number[];
  yMin: number; yMax: number; yTicks: number[];
  rho: string;
}

const panels: Panel[] = [
  { data: rotationDarts, xMin: 30, xMax: 47.8, xTicks: dartsXTicks, yMin: 92.5, yMax: 95, yTicks: rotDartsYTicks, rho: rhoDarts[0] },
  { data: colorizationDarts, xMin: 30, xMax: 47.8, xTicks: dartsXTicks, yMin: 30.4, yMax: 30.8, yTicks: colDartsYTicks, rho: rhoDarts[1] },
  { data: jigsawDarts, xMin: 30, xMax: 47.8, xTicks: dartsXTicks, yMin: 72, yMax: 78, yTicks: jigDartsYTicks, rho: rhoDarts[2] },
  { data: supervisedDarts, xMin: 30, xMax: 47.8, xTicks: dartsXTicks, yMin: 91, yMax: 94.5, yTicks: supDartsYTicks, rho: rhoDarts[3] },
  { data: rotationNb, xMin: 31.6, xMax: 68.9, xTicks: nbXTicks, yMin: 90, yMax: 97, yTicks: rotNbYTicks, rho: rhoNb[0] },
  { data: colorizationNb, xMin: 31.6, xMax: 68.9, xTicks: nbXTicks, yMin: 30.4, yMax: 30.8, yTicks: colNbYTicks, rho: rhoNb[1] },
  { data: jigsawNb, xMin: 31.6, xMax: 68.9, xTicks: nbXTicks, yMin: 69, yMax: 82, yTicks: jigNbYTicks, rho: rhoNb[2] },
  { data: supervisedNb, xMin: 31.6, xMax: 68.9, xTicks: nbXTicks, yMin: 89, yMax: 97, yTicks: supNbYTicks, rho: rhoNb[3] },
];

function fit(pts: Pt[]) {
  const n = pts.length;
  let mx = 0, my = 0;
  pts.forEach(([x, y]) => { mx += x; my += y; });
  mx /= n; my /= n;
  let sxx = 0, sxy = 0;
  pts.forEach(([x, y]) => { sxx += (x - mx) ** 2; sxy += (x - mx) * (y - my); });
  const b = sxy / sxx;
  const a = my - b * mx;
  let ss = 0;
  pts.forEach(([x, y]) => { ss += (y - a - b * x) ** 2; });
  const s2 = ss / (n - 2);
  return {
    at: (x: number) => a + b * x,
    se: (x: number) => Math.sqrt(s2 * (1 / n + (x - mx) ** 2 / sxx)),
  };
}

function buildOption() {
  const grid: any[] = [];
  const xAxis: any[] = [];
  const yAxis: any[] = [];
  const series: any[] = [];
  const graphic: any[] = [];

  panels.forEach((p, i) => {
    const r = Math.floor(i / 4);
    const c = i % 4;
    const left = COL_LEFT[c];
    const top = ROW_TOP[r];
    const h = PLOT_H[r];
    const color = COLORS[c];
    grid.push({
      left, top, width: PLOT_W, height: h,
      show: true, backgroundColor: '#f2f2f2', borderColor: '#333333', borderWidth: 1.2,
      containLabel: false,
    });
    xAxis.push({
      type: 'value', gridIndex: i, min: p.xMin, max: p.xMax,
      axisLine: { show: false }, axisTick: { show: false }, splitLine: { show: false },
      axisLabel: {
        customValues: p.xTicks, formatter: (v: number) => v.toFixed(1),
        fontFamily: FONT, fontSize: 10.5, color: '#262626', margin: 4,
        showMinLabel: true, showMaxLabel: true,
      },
    });
    yAxis.push({
      type: 'value', gridIndex: i, min: p.yMin, max: p.yMax,
      axisLine: { show: false }, axisTick: { show: false }, splitLine: { show: false },
      axisLabel: {
        customValues: p.yTicks, formatter: (v: number) => v.toFixed(1),
        fontFamily: FONT, fontSize: 10.5, color: '#262626', margin: 4,
        showMinLabel: true, showMaxLabel: true,
      },
    });

    // white grid lines at tick positions
    series.push({
      type: 'custom', xAxisIndex: i, yAxisIndex: i, z: 1, silent: true,
      data: [[p.xMin, p.yMin]],
      renderItem: (_params: any, api: any) => {
        const children: any[] = [];
        p.xTicks.forEach((t) => {
          const a = api.coord([t, p.yMin]);
          const b = api.coord([t, p.yMax]);
          children.push({ type: 'line', shape: { x1: a[0], y1: a[1], x2: b[0], y2: b[1] }, style: { stroke: '#ffffff', lineWidth: 1.1 } });
        });
        p.yTicks.forEach((t) => {
          const a = api.coord([p.xMin, t]);
          const b = api.coord([p.xMax, t]);
          children.push({ type: 'line', shape: { x1: a[0], y1: a[1], x2: b[0], y2: b[1] }, style: { stroke: '#ffffff', lineWidth: 1.1 } });
        });
        return { type: 'group', children };
      },
    });

    const f = fit(p.data);
    // 95% confidence band of the regression
    const steps = 40;
    const upper: Pt[] = [];
    const lower: Pt[] = [];
    for (let k = 0; k <= steps; k++) {
      const x = p.xMin + ((p.xMax - p.xMin) * k) / steps;
      const y = f.at(x);
      const d = 1.97 * f.se(x);
      upper.push([x, y + d]);
      lower.push([x, y - d]);
    }
    const poly = upper.concat(lower.reverse());
    series.push({
      type: 'custom', xAxisIndex: i, yAxisIndex: i, z: 2, silent: true, clip: true,
      data: [[p.xMin, p.yMin]],
      renderItem: (_params: any, api: any) => ({
        type: 'polygon',
        shape: { points: poly.map((q) => api.coord(q)) },
        style: { fill: color, opacity: 0.18 },
      }),
    });

    series.push({
      type: 'scatter', xAxisIndex: i, yAxisIndex: i, z: 3, silent: true,
      data: p.data, symbolSize: 5,
      itemStyle: { color, opacity: 0.55 },
    });

    series.push({
      type: 'line', xAxisIndex: i, yAxisIndex: i, z: 4, silent: true,
      data: [[p.xMin, f.at(p.xMin)], [p.xMax, f.at(p.xMax)]],
      showSymbol: false, symbol: 'none',
      lineStyle: { color, width: 1.3, opacity: 0.95 },
    });

    // y-axis title
    graphic.push({
      type: 'text', x: left - 35.5, y: top + h / 2, rotation: Math.PI / 2, z: 100,
      style: { text: yTitles[c], font: `13px "${FONT}"`, fill: '#1a1a1a', align: 'center', verticalAlign: 'middle' },
    });

    // legend box
    const lx = left + 6;
    const ly = top + 5;
    graphic.push({
      type: 'text', x: lx, y: ly, z: 100,
      style: {
        text: `${taskNames[c]}\n{i|ρ}=${p.rho}`,
        font: `12.5px "${FONT}"`,
        fill: '#1a1a1a',
        lineHeight: 15,
        padding: [1, 6, 1, 24],
        backgroundColor: 'rgba(236,236,236,0.92)',
        borderColor: '#b5b5b5',
        borderWidth: 1,
        borderRadius: 3,
        shadowColor: 'rgba(0,0,0,0.22)',
        shadowOffsetX: 1.5,
        shadowOffsetY: 1.5,
        shadowBlur: 1,
        rich: { i: { fontStyle: 'italic', fontFamily: FONT, fontSize: 12.5, lineHeight: 15, fill: '#1a1a1a' } },
      },
    });
    graphic.push({
      type: 'circle', z: 101, shape: { cx: lx + 13.5, cy: ly + 16.5, r: 4.8 },
      style: { fill: color, opacity: 0.6 },
    });
  });

  // shared x titles
  graphic.push({
    type: 'text', x: 468, y: 189, z: 100,
    style: { text: xTitles[0], font: `14px "${FONT}"`, fill: '#1a1a1a', align: 'center', verticalAlign: 'middle' },
  });
  graphic.push({
    type: 'text', x: 468, y: 393, z: 100,
    style: { text: xTitles[1], font: `14px "${FONT}"`, fill: '#1a1a1a', align: 'center', verticalAlign: 'middle' },
  });

  return { animation: false, backgroundColor: '#ffffff', grid, xAxis, yAxis, series, graphic };
}

export default function App() {
  const ref = useRef<HTMLDivElement>(null);
  useEffect(() => {
    document.body.style.margin = '0';
    if (!ref.current) return;
    const chart = echarts.init(ref.current, undefined, { renderer: 'svg' });
    chart.setOption(buildOption() as any);
    return () => chart.dispose();
  }, []);
  return <div ref={ref} style={{ width: 920, height: 403 }} />;
}
